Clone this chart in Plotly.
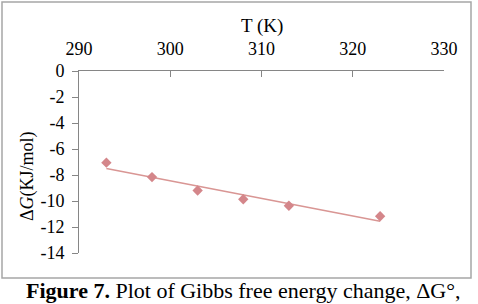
import numpy as np
import plotly.graph_objects as go

# Data
temperature_K = [293, 298, 303, 308, 313, 323]
delta_G = [-7.05, -8.16, -9.19, -9.86, -10.37, -11.17]
x_ticks = [290, 300, 310, 320, 330]
y_ticks = [0, -2, -4, -6, -8, -10, -12, -14]

# linear trendline (least squares fit of the data)
slope, intercept = np.polyfit(temperature_K, delta_G, 1)
trend_x = [temperature_K[0], temperature_K[-1]]
trend_y = [slope * t + intercept for t in trend_x]

W, H = 478, 304
L, R, T, B = 79, 444, 71, 253  # plot area in px
pw, ph = R - L, B - T

def px_x(px):
    return (px - L) / pw

def px_y(py):
    return (B - py) / ph

FONT = "Liberation Serif"

fig = go.Figure()
fig.add_trace(go.Scatter(x=trend_x, y=trend_y, mode="lines",
                         line=dict(color="#D99694", width=1.5),
                         hoverinfo="skip", showlegend=False))
fig.add_trace(go.Scatter(x=temperature_K, y=delta_G, mode="markers",
                         marker=dict(symbol="diamond", size=8, color="#D4868A"),
                         showlegend=False))

axis_gray = "#868686"
fig.update_layout(
    width=W, height=H,
    margin=dict(l=L, r=W - R, t=T, b=H - B),
    paper_bgcolor="white", plot_bgcolor="white",
    font=dict(family=FONT, size=18, color="black"),
    xaxis=dict(side="top", range=[290, 330], tickvals=x_ticks,
               ticktext=[str(v) for v in x_ticks],
               ticks="inside", ticklen=6, tickcolor=axis_gray, tickwidth=1,
               showline=True, linecolor=axis_gray, linewidth=1,
               showgrid=False, zeroline=False, ticklabelstandoff=8,
               tickfont=dict(family=FONT, size=18, color="black")),
    yaxis=dict(range=[-14, 0], tickvals=y_ticks,
               ticktext=[str(v) for v in y_ticks],
               ticks="outside", ticklen=6, tickcolor=axis_gray, tickwidth=1,
               showline=True, linecolor=axis_gray, linewidth=1,
               showgrid=False, zeroline=False, ticklabelstandoff=4,
               tickfont=dict(family=FONT, size=18, color="black")),
    shapes=[dict(type="rect", xref="paper", yref="paper",
                 x0=px_x(2), x1=px_x(471), y0=px_y(278), y1=px_y(2),
                 line=dict(color="#A6A6A6", width=1.5), fillcolor="rgba(0,0,0,0)",
                 layer="below")],
    annotations=[
        dict(text="T (K)", xref="paper", yref="paper", x=px_x(262), y=px_y(26),
             showarrow=False, xanchor="center", yanchor="middle",
             font=dict(family=FONT, size=19, color="black")),
        dict(text="Δ<i>G</i>(KJ/mol)", xref="paper", yref="paper",
             x=px_x(27), y=px_y(176), textangle=-90,
             showarrow=False, xanchor="center", yanchor="middle",
             font=dict(family=FONT, size=18, color="black")),
        dict(text="<b>Figure 7.</b> Plot of Gibbs free energy change, ΔG°,",
             xref="paper", yref="paper", x=px_x(243.5), y=px_y(290),
             showarrow=False, xanchor="center", yanchor="middle",
             font=dict(family=FONT, size=22, color="black")),
    ],
)

fig.write_html("out.html")
